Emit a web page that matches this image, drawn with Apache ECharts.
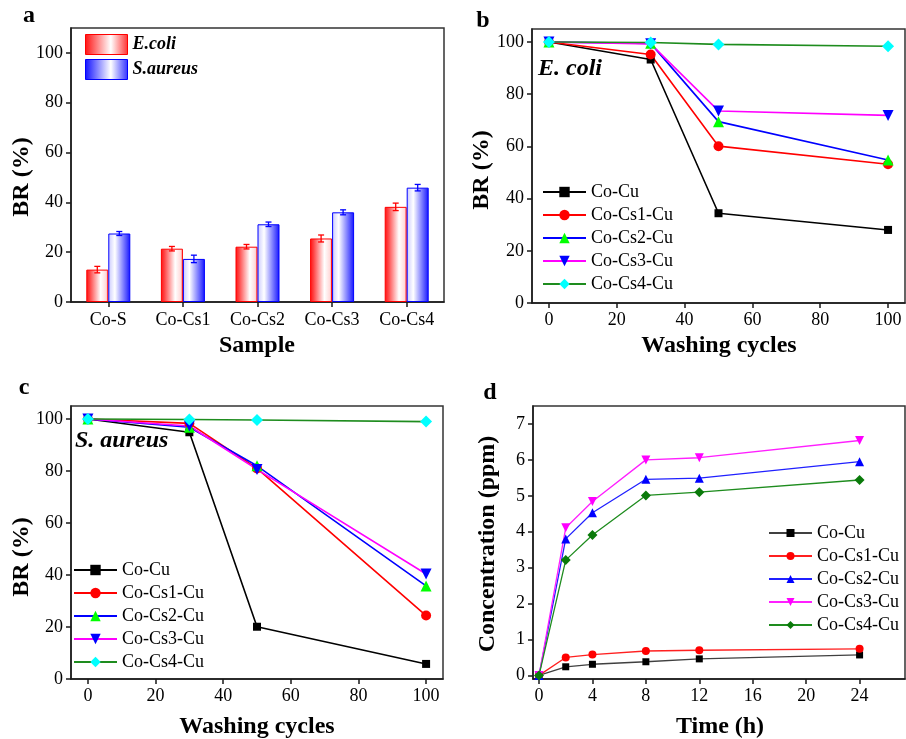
<!DOCTYPE html>
<html>
<head>
<meta charset="utf-8">
<script src="https://cdn.jsdelivr.net/npm/echarts@6/dist/echarts.min.js"></script>
<style>
html, body { margin: 0; padding: 0; background: #fff; width: 906px; height: 739px; overflow: hidden; }
.panel { position: absolute; left: 0; top: 0; width: 906px; height: 739px; }
</style>
</head>
<body>
<div id="panelA" class="panel"></div>
<div id="panelB" class="panel"></div>
<div id="panelC" class="panel"></div>
<div id="panelD" class="panel"></div>
<script>
// ---- (a) bacterial reduction of the samples ----
const samples = ['Co-S', 'Co-Cs1', 'Co-Cs2', 'Co-Cs3', 'Co-Cs4'];
const ecoliBR = [13.0, 21.4, 22.2, 25.5, 38.2];
const ecoliErr = [1.3, 0.9, 0.9, 1.4, 1.5];
const aureusBR = [27.5, 17.3, 31.2, 36.0, 45.9];
const aureusErr = [0.8, 1.5, 0.9, 1.0, 1.3];
const brTicks = [0, 20, 40, 60, 80, 100];

// ---- (b), (c) bacterial reduction after washing ----
const seriesNames = ['Co-Cu', 'Co-Cs1-Cu', 'Co-Cs2-Cu', 'Co-Cs3-Cu', 'Co-Cs4-Cu'];
const washCycles = [0, 30, 50, 100];
const washTicks = [0, 20, 40, 60, 80, 100];
const ecoliCoCu = [100, 93.3, 34.4, 28.0];
const ecoliCoCs1Cu = [100, 95.2, 60.1, 53.2];
const ecoliCoCs2Cu = [100, 99.5, 69.5, 54.8];
const ecoliCoCs3Cu = [100, 99.3, 73.6, 71.9];
const ecoliCoCs4Cu = [100, 99.8, 99.1, 98.4];
const aureusCoCu = [100, 94.9, 20.1, 5.8];
const aureusCoCs1Cu = [100, 98.3, 81.0, 24.4];
const aureusCoCs2Cu = [100, 96.8, 82.0, 35.8];
const aureusCoCs3Cu = [100, 97.3, 80.6, 40.4];
const aureusCoCs4Cu = [100, 99.8, 99.6, 99.0];

// ---- (d) copper release over time ----
const hours = [0, 2, 4, 8, 12, 24];
const hourTicks = [0, 4, 8, 12, 16, 20, 24];
const ppmTicks = [0, 1, 2, 3, 4, 5, 6, 7];
const relCoCu = [0, 0.24, 0.31, 0.38, 0.46, 0.57];
const relCoCs1Cu = [0, 0.50, 0.58, 0.68, 0.70, 0.74];
const relCoCs2Cu = [0, 3.80, 4.53, 5.46, 5.49, 5.95];
const relCoCs3Cu = [0, 4.11, 4.84, 6.00, 6.06, 6.54];
const relCoCs4Cu = [0, 3.21, 3.91, 5.01, 5.10, 5.44];

// ---- shared styling ----
const FONT = '"Liberation Serif", "Times New Roman", serif';
const INK = '#1a1a1a';
const BAR_W = 22;

function pairs(xs, ys) { return xs.map((x, i) => [x, ys[i]]); }

function axisLine() { return { show: true, onZero: false, lineStyle: { color: INK, width: 1.5 } }; }
function axisTick(vals) {
  const t = { show: true, inside: false, length: 5, lineStyle: { color: INK, width: 1.5 } };
  if (vals) t.customValues = vals;
  return t;
}
function axisLabel(vals) {
  const l = { color: '#000', fontFamily: FONT, fontSize: 18, margin: 8 };
  if (vals) l.customValues = vals;
  return l;
}
function valueAxis(min, max, ticks) {
  return {
    type: 'value', min, max,
    axisLine: axisLine(), axisTick: axisTick(ticks), axisLabel: axisLabel(ticks),
    splitLine: { show: false }
  };
}
function frame(left, top, width, height) {
  return { left, top, width, height, show: true, borderColor: '#333', borderWidth: 1.5, containLabel: false };
}
function text(x, y, str, size, opts) {
  opts = opts || {};
  return {
    type: 'text', x, y, rotation: opts.rot || 0, z: 100,
    style: {
      text: str, fontFamily: FONT, fontSize: size,
      fontWeight: opts.weight || 'bold', fontStyle: opts.italic ? 'italic' : 'normal',
      fill: '#000', align: opts.align || 'center', verticalAlign: 'middle'
    }
  };
}
function grad(stops) {
  return { type: 'linear', x: 0, y: 0, x2: 1, y2: 0, colorStops: stops.map(s => ({ offset: s[0], color: s[1] })) };
}

// ---------------- panel (a) ----------------
const redFill = grad([[0, '#ff1010'], [0.15, '#ff4040'], [0.65, '#ffffff'], [0.9, '#ffdada'], [1, '#ff8a8a']]);
const blueFill = grad([[0, '#c8c8ff'], [0.3, '#ffffff'], [0.85, '#4848ff'], [1, '#1010ff']]);
const redSwatch = grad([[0, '#ff1010'], [0.6, '#ffffff'], [1, '#ff3030']]);
const blueSwatch = grad([[0, '#1010ff'], [0.6, '#ffffff'], [1, '#3030ff']]);

function errorBars(values, errs, side, color) {
  return {
    type: 'custom',
    data: values.map((v, i) => [i, v, errs[i]]),
    encode: { x: 0, y: 1 },
    z: 10,
    silent: true,
    renderItem(params, api) {
      const i = api.value(0), v = api.value(1), e = api.value(2);
      const hi = api.coord([i, v + e]);
      const lo = api.coord([i, v - e]);
      const x = hi[0] + side * BAR_W / 2;
      const cap = 3;
      const st = { stroke: color, lineWidth: 1.3 };
      return {
        type: 'group', children: [
          { type: 'line', shape: { x1: x, y1: hi[1], x2: x, y2: lo[1] }, style: st },
          { type: 'line', shape: { x1: x - cap, y1: hi[1], x2: x + cap, y2: hi[1] }, style: st },
          { type: 'line', shape: { x1: x - cap, y1: lo[1], x2: x + cap, y2: lo[1] }, style: st }
        ]
      };
    }
  };
}

const chartA = echarts.init(document.getElementById('panelA'), null, { renderer: 'canvas' });
chartA.setOption({
  animation: false,
  grid: frame(71, 28, 373, 274),
  xAxis: {
    type: 'category', data: samples,
    axisLine: axisLine(), axisTick: Object.assign(axisTick(), { alignWithLabel: true }),
    axisLabel: Object.assign(axisLabel(), { margin: 9 })
  },
  yAxis: valueAxis(0, 110, brTicks),
  legend: {
    orient: 'vertical', left: 85, top: 34, padding: 0, itemWidth: 42, itemHeight: 20, itemGap: 4, icon: 'rect',
    textStyle: { fontFamily: FONT, fontSize: 18, fontWeight: 'bold', fontStyle: 'italic', color: '#000' },
    data: [
      { name: 'E.coli', itemStyle: { color: redSwatch, borderColor: '#ff0000', borderWidth: 1 } },
      { name: 'S.aureus', itemStyle: { color: blueSwatch, borderColor: '#0000ff', borderWidth: 1 } }
    ]
  },
  series: [
    { name: 'E.coli', type: 'bar', data: ecoliBR, barWidth: BAR_W, barGap: '0%',
      itemStyle: { color: redFill, borderColor: '#ff0000', borderWidth: 1 } },
    { name: 'S.aureus', type: 'bar', data: aureusBR, barWidth: BAR_W, barGap: '0%',
      itemStyle: { color: blueFill, borderColor: '#0000ff', borderWidth: 1 } },
    errorBars(ecoliBR, ecoliErr, -1, '#ff0000'),
    errorBars(aureusBR, aureusErr, 1, '#0000ff')
  ],
  graphic: [
    text(29, 16, 'a', 24),
    text(22, 177, 'BR (%)', 24, { rot: Math.PI / 2 }),
    text(257, 346, 'Sample', 24)
  ]
});

// ---------------- panels (b) and (c) ----------------
const washStyles = [
  { line: '#000000', symbol: 'rect', size: 8, fill: '#000000', rotate: 0 },
  { line: '#ff0000', symbol: 'circle', size: 10, fill: '#ff0000', rotate: 0 },
  { line: '#0000ff', symbol: 'triangle', size: 11, fill: '#00ff00', rotate: 0 },
  { line: '#ff00ff', symbol: 'triangle', size: 11, fill: '#0000ff', rotate: 180 },
  { line: '#1e8c1e', symbol: 'diamond', size: 12, fill: '#00ffff', rotate: 0 }
];

function lineSeries(name, xs, ys, s, width) {
  return {
    name, type: 'line', data: pairs(xs, ys),
    symbol: s.symbol, symbolSize: s.size, symbolRotate: s.rotate, showSymbol: true,
    lineStyle: { color: s.line, width: width },
    itemStyle: { color: s.fill, borderWidth: 0 }
  };
}

function washPanel(el, grid, legendPos, curves, labelText, tagPos, organism, titles) {
  const chart = echarts.init(document.getElementById(el), null, { renderer: 'canvas' });
  chart.setOption({
    animation: false,
    grid: frame(grid[0], grid[1], grid[2], grid[3]),
    xAxis: valueAxis(-5, 105, washTicks),
    yAxis: valueAxis(0, 105, brTicks),
    legend: {
      orient: 'vertical', left: legendPos[0], top: legendPos[1], padding: 0,
      itemWidth: 43, itemHeight: 13, itemGap: 5,
      textStyle: { fontFamily: FONT, fontSize: 18, color: '#000' },
      data: seriesNames
    },
    series: curves.map((ys, k) => lineSeries(seriesNames[k], washCycles, ys, washStyles[k], 1.6)),
    graphic: [
      text(tagPos[0], tagPos[1], labelText, 24),
      text(organism.x, organism.y, organism.text, 24, { italic: true, align: 'left' }),
      text(titles.yx, titles.yy, 'BR (%)', 24, { rot: Math.PI / 2 }),
      text(titles.xx, titles.xy, 'Washing cycles', 24)
    ]
  });
  return chart;
}

washPanel('panelB', [532, 29, 373, 274], [542, 183],
  [ecoliCoCu, ecoliCoCs1Cu, ecoliCoCs2Cu, ecoliCoCs3Cu, ecoliCoCs4Cu],
  'b', [483, 21], { x: 538, y: 69, text: 'E. coli' },
  { yx: 482, yy: 170, xx: 719, xy: 346 });

washPanel('panelC', [71, 406, 372, 273], [73, 561],
  [aureusCoCu, aureusCoCs1Cu, aureusCoCs2Cu, aureusCoCs3Cu, aureusCoCs4Cu],
  'c', [24, 388], { x: 75, y: 441, text: 'S. aureus' },
  { yx: 22, yy: 557, xx: 257, xy: 727 });

// ---------------- panel (d) ----------------
const releaseStyles = [
  { line: '#404040', symbol: 'rect', size: 7, fill: '#000000', rotate: 0 },
  { line: '#ff2020', symbol: 'circle', size: 8, fill: '#ff0000', rotate: 0 },
  { line: '#2020ff', symbol: 'triangle', size: 9, fill: '#0000ff', rotate: 0 },
  { line: '#ff20ff', symbol: 'triangle', size: 9, fill: '#ff00ff', rotate: 180 },
  { line: '#1e8c1e', symbol: 'diamond', size: 10, fill: '#0a7a0a', rotate: 0 }
];
const releaseCurves = [relCoCu, relCoCs1Cu, relCoCs2Cu, relCoCs3Cu, relCoCs4Cu];

const chartD = echarts.init(document.getElementById('panelD'), null, { renderer: 'canvas' });
chartD.setOption({
  animation: false,
  grid: frame(533, 406, 372, 273),
  xAxis: valueAxis(-0.45, 27.4, hourTicks),
  yAxis: valueAxis(-0.1, 7.5, ppmTicks),
  legend: {
    orient: 'vertical', left: 768, top: 524, padding: 0,
    itemWidth: 43, itemHeight: 10, itemGap: 5,
    textStyle: { fontFamily: FONT, fontSize: 18, color: '#000' },
    data: seriesNames
  },
  series: releaseCurves.map((ys, k) => lineSeries(seriesNames[k], hours, ys, releaseStyles[k], 1.3)),
  graphic: [
    text(490, 393, 'd', 24),
    text(488, 544, 'Concentration (ppm)', 24, { rot: Math.PI / 2 }),
    text(720, 727, 'Time (h)', 24)
  ]
});
</script>
</body>
</html>
